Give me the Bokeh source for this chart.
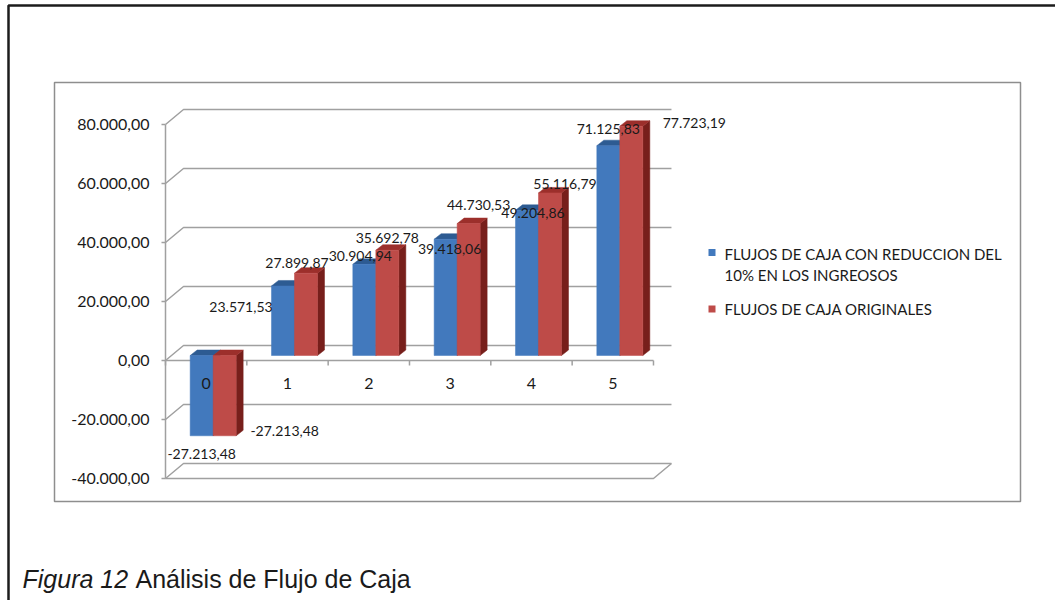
from bokeh.plotting import figure
from bokeh.models import Range1d
from bokeh.core.properties import value
from bokeh.embed import file_html
from bokeh.resources import INLINE

# ---- data -------------------------------------------------------------
periods = ["0", "1", "2", "3", "4", "5"]
flujo_reducido = [-27213.48, 23571.53, 30904.94, 39418.06, 49204.86, 71125.83]
flujo_original = [-27213.48, 27899.87, 35692.78, 44730.53, 55116.79, 77723.19]
series_names = [
    "FLUJOS DE CAJA CON REDUCCION DEL\n10% EN LOS INGREOSOS",
    "FLUJOS DE CAJA ORIGINALES",
]
y_ticks = [-40000, -20000, 0, 20000, 40000, 60000, 80000]
y_tick_labels = ["-40.000,00", "-20.000,00", "0,00", "20.000,00",
                 "40.000,00", "60.000,00", "80.000,00"]
caption_lead = "Figura 12"
caption_rest = "Análisis de Flujo de Caja"

# ---- layout constants (pixels) ---------------------------------------
W, H = 1055, 600
CAT_PX = 81.33            # width of one category slot
UNIT_PX = 59 / 20000      # pixels per currency unit
AX_X, AX_Y = 165, 360     # front-left corner of the zero line

WALL = (18, 15)           # depth of the back wall (right, up)
PLANE = (7, 5)            # where the bars sit inside the depth
DEPTH = (7, 5.5)          # thickness of each bar
BAR_PX = 23

BLUE = dict(front="#4279bd", top="#2d5b92", side="#274f80")
RED = dict(front="#be4b48", top="#9c2f2b", side="#771f1b")
GRID = "#a0a0a0"
FONT = "Lato"
INK = "#1a1a1a"


def X(px):
    return (px - AX_X) / CAT_PX


def Y(py):
    return (AX_Y - py) / UNIT_PX


def DX(px):
    return px / CAT_PX


def DY(px):
    return px / UNIT_PX


def es(v):
    s = f"{v:,.2f}"
    return s.replace(",", "#").replace(".", ",").replace("#", ".")


p = figure(width=W, height=H, x_range=Range1d(X(0), X(W)),
           y_range=Range1d(Y(H), Y(0)), x_axis_type=None, y_axis_type=None,
           output_backend="svg", toolbar_location=None, min_border=0,
           outline_line_color=None, background_fill_color="white",
           border_fill_color="white")

# page frame and chart-area box
p.line([X(8), X(8), X(W + 5)], [Y(H + 5), Y(5), Y(5)],
       line_color="#1c1c1c", line_width=2.5)
p.quad(left=X(54), right=X(1020), top=Y(82), bottom=Y(501),
       fill_color=None, line_color="#8e8e8e", line_width=1.5)

n = len(periods)
wdx, wdy = DX(WALL[0]), DY(WALL[1])

# back-wall gridlines with the diagonal on the left side wall
gx, gy = [], []
for t in y_ticks:
    gx.append([0, wdx, n + wdx])
    gy.append([t, t + wdy, t + wdy])
p.multi_line(gx, gy, line_color=GRID, line_width=1.5)

# floor edge at the minimum and its right diagonal
ymin, ymax = y_ticks[0], y_ticks[-1]
p.line([0, n, n + wdx], [ymin, ymin, ymin + wdy], line_color=GRID, line_width=1.5)

# vertical value axis with its tick marks
p.line([0, 0], [ymin, ymax], line_color=GRID, line_width=1.5)
p.multi_line([[DX(-4), 0] for _ in y_ticks], [[t, t] for t in y_ticks],
             line_color=GRID, line_width=1.5)

# category axis at zero with ticks between the periods
p.line([0, n], [0, 0], line_color=GRID, line_width=1.5)
p.multi_line([[k, k] for k in range(n + 1)], [[0, -DY(5)] for _ in range(n + 1)],
             line_color=GRID, line_width=1.5)

# y tick labels
p.text(x=[0] * len(y_ticks), y=y_ticks, text=y_tick_labels, x_offset=-16,
       text_align="right", text_baseline="middle", text_font=value(FONT),
       text_font_size="16px", text_color=INK)

# ---- 3-D bars -------------------------------------------------------
bw = DX(BAR_PX)
px_, py_ = DX(PLANE[0]), DY(PLANE[1])
bx, by = DX(DEPTH[0]), DY(DEPTH[1])


def bar_faces(xl, v):
    xr = xl + bw
    lo, hi = min(0, v) + py_, max(0, v) + py_
    xl, xr = xl + px_, xr + px_
    side = ([xr, xr + bx, xr + bx, xr], [lo, lo + by, hi + by, hi])
    top = ([xl, xr, xr + bx, xl + bx], [hi, hi, hi + by, hi + by])
    front = ([xl, xr, xr, xl], [lo, lo, hi, hi])
    return side, top, front


for i in range(n):
    for k, (vals, col) in enumerate(((flujo_reducido, BLUE), (flujo_original, RED))):
        xl = i + 0.5 - bw + k * bw
        side, top, front = bar_faces(xl, vals[i])
        p.patch(*side, fill_color=col["side"], line_color=col["side"], line_width=0.5)
        p.patch(*top, fill_color=col["top"], line_color=col["top"], line_width=0.5)
        p.patch(*front, fill_color=col["front"], line_color=col["front"], line_width=0.5)

# category labels on the front of the zero line
p.text(x=[i + 0.5 for i in range(n)], y=[0] * n, text=periods, y_offset=23,
       text_align="center", text_baseline="middle", text_font=value(FONT),
       text_font_size="16px", text_color=INK)

# data labels, anchored at the free end of each bar
blue_off = [(0, 18), (-42, 21), (-4, -8), (4, 10), (6, 3), (0, -17)]
red_off = [(60, -5), (-9, -10), (0, -12), (10, -19), (15, -9), (63, -3)]
for k, (vals, offs) in enumerate(((flujo_reducido, blue_off), (flujo_original, red_off))):
    xs = [i + 0.5 - bw + k * bw + bw / 2 + px_ for i in range(n)]
    ys = [v + py_ for v in vals]
    p.text(x=xs, y=ys, text=[es(v) for v in vals],
           x_offset=[o[0] for o in offs], y_offset=[o[1] for o in offs],
           text_align="center", text_baseline="middle", text_font=value(FONT),
           text_font_size="14px", text_color=INK)

# legend
p.scatter(x=[X(711.5), X(711.5)], y=[Y(252), Y(308.5)], marker="square", size=7,
          fill_color=[BLUE["front"], RED["front"]], line_color=None)
p.text(x=[X(724), X(724)], y=[Y(244.5), Y(299)], text=series_names,
       text_align="left", text_baseline="top", text_line_height=1.17,
       text_font=value(FONT), text_font_size="15px", text_color=INK)

# figure caption
p.text(x=[X(22)], y=[Y(578)], text=[caption_lead], text_align="left",
       text_baseline="alphabetic", text_font=value("Liberation Sans"),
       text_font_style="italic", text_font_size="25px", text_color=INK)
p.text(x=[X(135)], y=[Y(578)], text=[caption_rest], text_align="left",
       text_baseline="alphabetic", text_font=value("Liberation Sans"),
       text_font_size="25px", text_color=INK)

open("out.html", "w").write(file_html(p, INLINE))
